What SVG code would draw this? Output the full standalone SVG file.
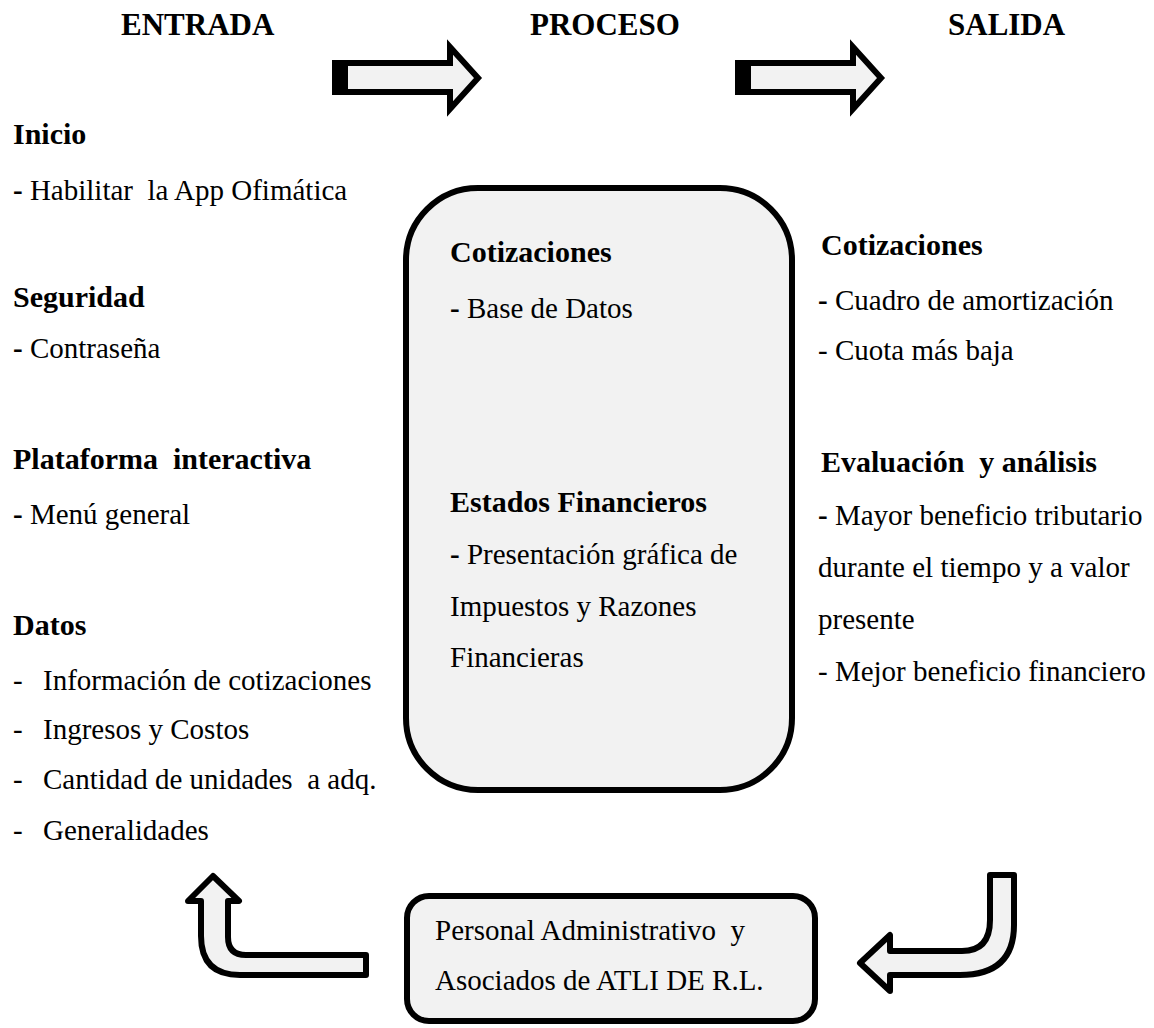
<svg xmlns="http://www.w3.org/2000/svg" width="1154" height="1028" viewBox="0 0 1154 1028">
<style>
text{font-family:"Liberation Serif","Times New Roman",serif;fill:#000;white-space:pre}
.h{font-size:31px;font-weight:bold}
.b{font-size:30px;font-weight:bold}
.r{font-size:29px}
.sh{fill:#f2f2f2;stroke:#000;stroke-width:6}
.arr{fill:#f2f2f2;stroke:#000;stroke-width:6;stroke-linejoin:round}
.blk{fill:#f2f2f2;stroke:#000;stroke-width:6;stroke-linejoin:miter}
</style>
<rect width="1154" height="1028" fill="#fff"/>
<g id="headers">
<text class="h" x="121" y="35">ENTRADA</text>
<text class="h" x="530" y="35">PROCESO</text>
<text class="h" x="948" y="35">SALIDA</text>
</g>
<g id="entrada">
<text class="b" x="13" y="144">Inicio</text>
<text class="r" x="13" y="200" xml:space="preserve"><tspan font-weight="bold">-</tspan> Habilitar  la App Ofimática</text>
<text class="b" x="13" y="307">Seguridad</text>
<text class="r" x="13" y="358"><tspan font-weight="bold">-</tspan> Contraseña</text>
<text class="b" x="13" y="469" xml:space="preserve">Plataforma  interactiva</text>
<text class="r" x="13" y="524"><tspan font-weight="bold">-</tspan> Menú general</text>
<text class="b" x="13" y="635">Datos</text>
<text class="r" x="13" y="690">-</text><text class="r" x="43" y="690">Información de cotizaciones</text>
<text class="r" x="13" y="739">-</text><text class="r" x="43" y="739">Ingresos y Costos</text>
<text class="r" x="13" y="789">-</text><text class="r" x="43" y="789" xml:space="preserve">Cantidad de unidades  a adq.</text>
<text class="r" x="13" y="840">-</text><text class="r" x="43" y="840">Generalidades</text>
</g>
<g id="proceso">
<rect class="sh" x="406" y="188" width="386" height="602" rx="72" ry="72"/>
<text class="b" x="450" y="262">Cotizaciones</text>
<text class="r" x="450" y="318"><tspan font-weight="bold">-</tspan> Base de Datos</text>
<text class="b" x="450" y="512">Estados Financieros</text>
<text class="r" x="450" y="564"><tspan font-weight="bold">-</tspan> Presentación gráfica de</text>
<text class="r" x="450" y="616">Impuestos y Razones</text>
<text class="r" x="450" y="667">Financieras</text>
</g>
<g id="salida">
<text class="b" x="821" y="255">Cotizaciones</text>
<text class="r" x="818" y="310"><tspan font-weight="bold">-</tspan> Cuadro de amortización</text>
<text class="r" x="818" y="360">- Cuota más baja</text>
<text class="b" x="821" y="472" xml:space="preserve">Evaluación  y análisis</text>
<text class="r" x="818" y="525"><tspan font-weight="bold">-</tspan> Mayor beneficio tributario</text>
<text class="r" x="818" y="577">durante el tiempo y a valor</text>
<text class="r" x="818" y="629">presente</text>
<text class="r" x="818" y="681">- Mejor beneficio financiero</text>
</g>
<g id="personal">
<rect class="sh" x="407" y="896" width="408" height="125" rx="22" ry="22"/>
<text class="r" x="435" y="940" xml:space="preserve">Personal Administrativo  y</text>
<text class="r" x="435" y="990">Asociados de ATLI DE R.L.</text>
</g>
<g id="connectors">
<g id="arrow-entrada-proceso">
<path class="blk" d="M335 63 L450 63 L450 47 L478 78 L450 109 L450 92 L335 92 Z"/>
<rect x="332" y="60" width="16" height="35" fill="#000"/>
</g>
<g id="arrow-proceso-salida" transform="translate(403,0)">
<path class="blk" d="M335 63 L450 63 L450 47 L478 78 L450 109 L450 92 L335 92 Z"/>
<rect x="332" y="60" width="16" height="35" fill="#000"/>
</g>
<path id="arrow-salida-personal" class="arr" d="M990 875 L1014 875 L1014 925 Q1014 975 960 975 L890 975 L890 991 L860 963 L890 935 L890 951 L962 951 Q990 951 990 920 Z"/>
<path id="arrow-personal-entrada" class="arr" d="M213 876 L239 901 L228 901 L228 937 Q228 955 246 955 L366 955 L366 975 L240 975 Q201 975 201 936 L201 901 L188 901 Z"/>
</g>
</svg>
